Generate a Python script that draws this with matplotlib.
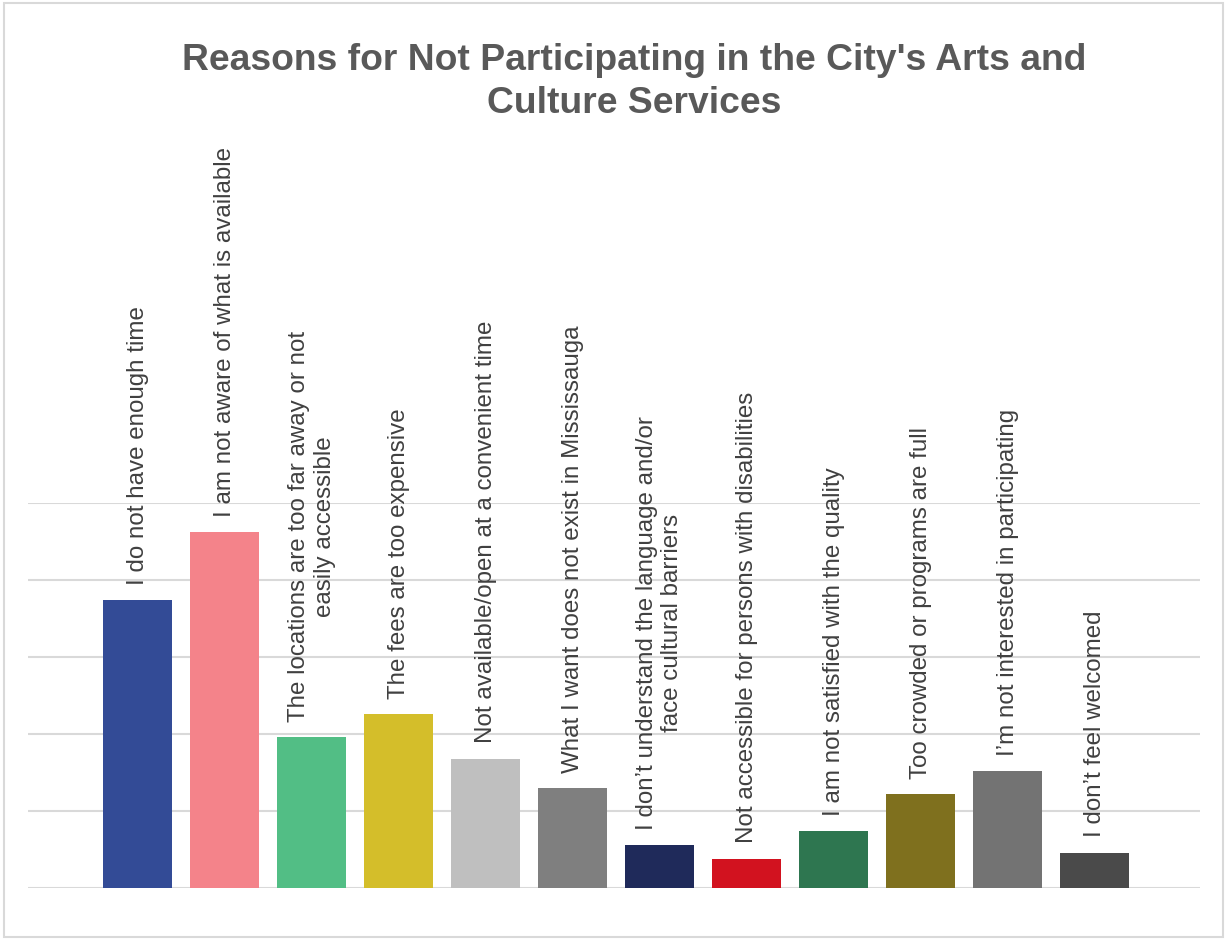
import matplotlib
matplotlib.use("Agg")
import matplotlib.pyplot as plt
from matplotlib.patches import Rectangle

plt.rcParams['font.family'] = ['Liberation Sans', 'DejaVu Sans']

reasons = [
    "I do not have enough time",
    "I am not aware of what is available",
    "The locations are too far away or not\neasily accessible",
    "The fees are too expensive",
    "Not available/open at a convenient time",
    "What I want does not exist in Mississauga",
    "I don\u2019t understand the language and/or\nface cultural barriers",
    "Not accessible for persons with disabilities",
    "I am not satisfied with the quality",
    "Too crowded or programs are full",
    "I\u2019m not interested in participating",
    "I don\u2019t feel welcomed",
]
percent = [18.7, 23.1, 9.8, 11.3, 8.4, 6.5, 2.8, 1.9, 3.7, 6.1, 7.6, 2.3]
colors = ["#334B96", "#F4838A", "#52BE85", "#D4BE2A", "#BFBFBF", "#7F7F7F",
          "#1F2A5A", "#D2121F", "#2E7650", "#7F701E", "#737373", "#4A4A4A"]

fig = plt.figure(figsize=(12.27, 9.40), dpi=100)
ax = fig.add_axes([0.0228, 0.0553, 0.955, 0.4096])

x = list(range(len(reasons)))
bars = ax.bar(x, percent, width=0.79, color=colors, zorder=2)

for xi, v, lab in zip(x, percent, reasons):
    ax.annotate(lab, (xi, v), xytext=(0, 11), textcoords="offset points",
                rotation=90, ha="center", va="bottom", multialignment="center",
                fontsize=17.4, color="#404040", linespacing=1.23,
                annotation_clip=False)

ax.set_ylim(0, 25)
ax.set_xlim(-1.26, 12.21)
ax.set_yticks([0, 5, 10, 15, 20, 25])
ax.yaxis.grid(True, color="#D9D9D9", linewidth=1.5, zorder=0)
ax.set_axisbelow(True)
ax.tick_params(left=False, bottom=False, labelleft=False, labelbottom=False)
for s in ax.spines.values():
    s.set_visible(False)

fig.text(0.5167, 0.913, "Reasons for Not Participating in the City's Arts and\nCulture Services",
         ha="center", va="center", fontsize=26.8, fontweight="bold",
         color="#595959", linespacing=1.29)

fig.patches.append(Rectangle((0.003, 0.003), 0.994, 0.994, transform=fig.transFigure,
                             fill=False, edgecolor="#D9D9D9", linewidth=1.5))

fig.savefig("out.png", dpi=100)
